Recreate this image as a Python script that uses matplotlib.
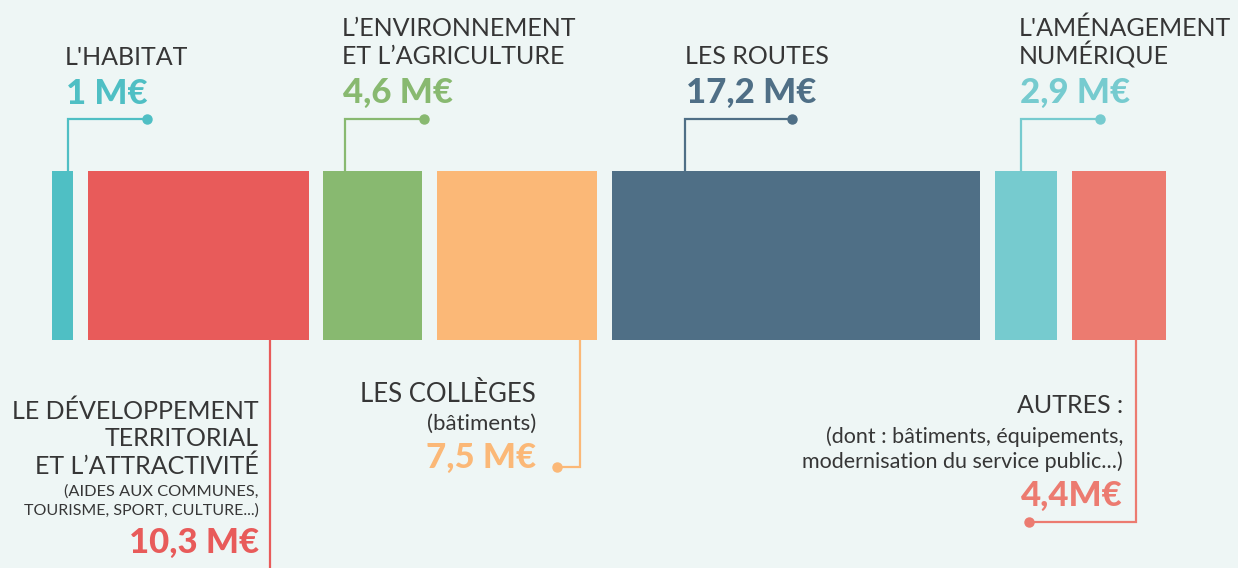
import matplotlib
matplotlib.use("Agg")
import matplotlib.pyplot as plt

# ---- data ----
categories = ["L'HABITAT", "LE DÉVELOPPEMENT TERRITORIAL", "L’ENVIRONNEMENT ET L’AGRICULTURE",
              "LES COLLÈGES", "LES ROUTES", "L'AMÉNAGEMENT NUMÉRIQUE", "AUTRES"]
values = [1.0, 10.3, 4.6, 7.5, 17.2, 2.9, 4.4]
value_labels = ["1 M€", "10,3 M€", "4,6 M€", "7,5 M€", "17,2 M€", "2,9 M€", "4,4M€"]
colors = ["#4fbfc4", "#e85b5a", "#88b970", "#fbb877", "#4f6f86", "#76cbcf", "#ec7b70"]

BG = "#eef6f5"
TXT = "#363636"
W, H = 1238, 568
S = 21.42          # pixels per M€
X0 = 52            # left edge of first bar in pixels
GAP = 0.686        # gap between bars (M€ units)

fig = plt.figure(figsize=(W / 100, H / 100), dpi=100, facecolor=BG)
ax = fig.add_axes([0, 0, 1, 1])
ax.set_facecolor(BG)
ax.set_xlim(-X0 / S, (W - X0) / S)
ax.set_ylim(H, 0)
ax.axis("off")

def px(x):
    return (x - X0) / S

# bars
lefts = []
cur = 0.0
for v in values:
    lefts.append(cur)
    cur += v + GAP
BAR_TOP, BAR_BOT = 171, 340
ax.barh([(BAR_TOP + BAR_BOT) / 2] * len(values), values, left=lefts,
        height=BAR_BOT - BAR_TOP, color=colors, linewidth=0, zorder=2)

LW = 1.6
MS = 6.5
LIGHT = dict(family=["Lato", "DejaVu Sans"], fontweight="normal", color=TXT)
BOLD = dict(family=["Lato", "DejaVu Sans"], fontweight="black")

def top_connector(i, offset, dot_px):
    xl = lefts[i] + offset
    ax.plot([xl, xl, px(dot_px)], [BAR_TOP, 119, 119], color=colors[i], lw=LW,
            solid_joinstyle="miter", zorder=1)
    ax.plot([px(dot_px)], [119], "o", color=colors[i], ms=MS, zorder=3)

def bottom_connector(i, offset, y_end, dot_px=None):
    xl = lefts[i] + offset
    if dot_px is None:
        ax.plot([xl, xl], [BAR_BOT, y_end], color=colors[i], lw=LW, zorder=1)
    else:
        ax.plot([xl, xl, px(dot_px)], [BAR_BOT, y_end, y_end], color=colors[i], lw=LW,
                solid_joinstyle="miter", zorder=1)
        ax.plot([px(dot_px)], [y_end], "o", color=colors[i], ms=MS, zorder=3)

# ---- top annotations ----
# Habitat
ax.text(px(65), 65, "L'HABITAT", fontsize=18, ha="left", va="baseline", **LIGHT)
ax.text(px(66), 104, value_labels[0], fontsize=25, ha="left", va="baseline", color=colors[0], **BOLD)
top_connector(0, 0.75, 147)

# Environnement
ax.text(px(342), 36, "L’ENVIRONNEMENT", fontsize=18, ha="left", va="baseline", **LIGHT)
ax.text(px(342), 64, "ET L’AGRICULTURE", fontsize=18, ha="left", va="baseline", **LIGHT)
ax.text(px(343), 103, value_labels[2], fontsize=25, ha="left", va="baseline", color=colors[2], **BOLD)
top_connector(2, 1.0, 424)

# Routes
ax.text(px(685), 64, "LES ROUTES", fontsize=18, ha="left", va="baseline", **LIGHT)
ax.text(px(686), 103, value_labels[4], fontsize=25, ha="left", va="baseline", color=colors[4], **BOLD)
top_connector(4, 3.4, 792)

# Numérique
ax.text(px(1019), 36, "L'AMÉNAGEMENT", fontsize=18, ha="left", va="baseline", **LIGHT)
ax.text(px(1019), 64, "NUMÉRIQUE", fontsize=18, ha="left", va="baseline", **LIGHT)
ax.text(px(1020), 103, value_labels[5], fontsize=25, ha="left", va="baseline", color=colors[5], **BOLD)
top_connector(5, 1.2, 1100)

# ---- bottom annotations ----
# Développement
R = px(259)
ax.text(R, 419, "LE DÉVELOPPEMENT", fontsize=18, ha="right", va="baseline", **LIGHT)
ax.text(R, 446, "TERRITORIAL", fontsize=18, ha="right", va="baseline", **LIGHT)
ax.text(R, 474, "ET L’ATTRACTIVITÉ", fontsize=18, ha="right", va="baseline", **LIGHT)
ax.text(R, 496, "(AIDES AUX COMMUNES,", fontsize=11.8, ha="right", va="baseline", **LIGHT)
ax.text(R, 515, "TOURISME, SPORT, CULTURE...)", fontsize=11.5, ha="right", va="baseline", **LIGHT)
ax.text(R, 553, value_labels[1], fontsize=25, ha="right", va="baseline", color=colors[1], **BOLD)
bottom_connector(1, 8.5, H + 5)

# Collèges
R = px(536)
ax.text(R, 402, "LES COLLÈGES", fontsize=18.5, ha="right", va="baseline", **LIGHT)
ax.text(R, 430, "(bâtiments)", fontsize=16, ha="right", va="baseline", **LIGHT)
ax.text(R, 468, value_labels[3], fontsize=25, ha="right", va="baseline", color=colors[3], **BOLD)
bottom_connector(3, 6.7, 467, 557)

# Autres
R = px(1123)
ax.text(R, 413, "AUTRES :", fontsize=18, ha="right", va="baseline", **LIGHT)
ax.text(R, 443, "(dont : bâtiments, équipements,", fontsize=15.5, ha="right", va="baseline", **LIGHT)
ax.text(R, 468, "modernisation du service public...)", fontsize=15.5, ha="right", va="baseline", **LIGHT)
ax.text(R, 506, value_labels[6], fontsize=25, ha="right", va="baseline", color=colors[6], **BOLD)
bottom_connector(6, 3.0, 522, 1029)

fig.savefig("out.png", dpi=100, facecolor=BG)
